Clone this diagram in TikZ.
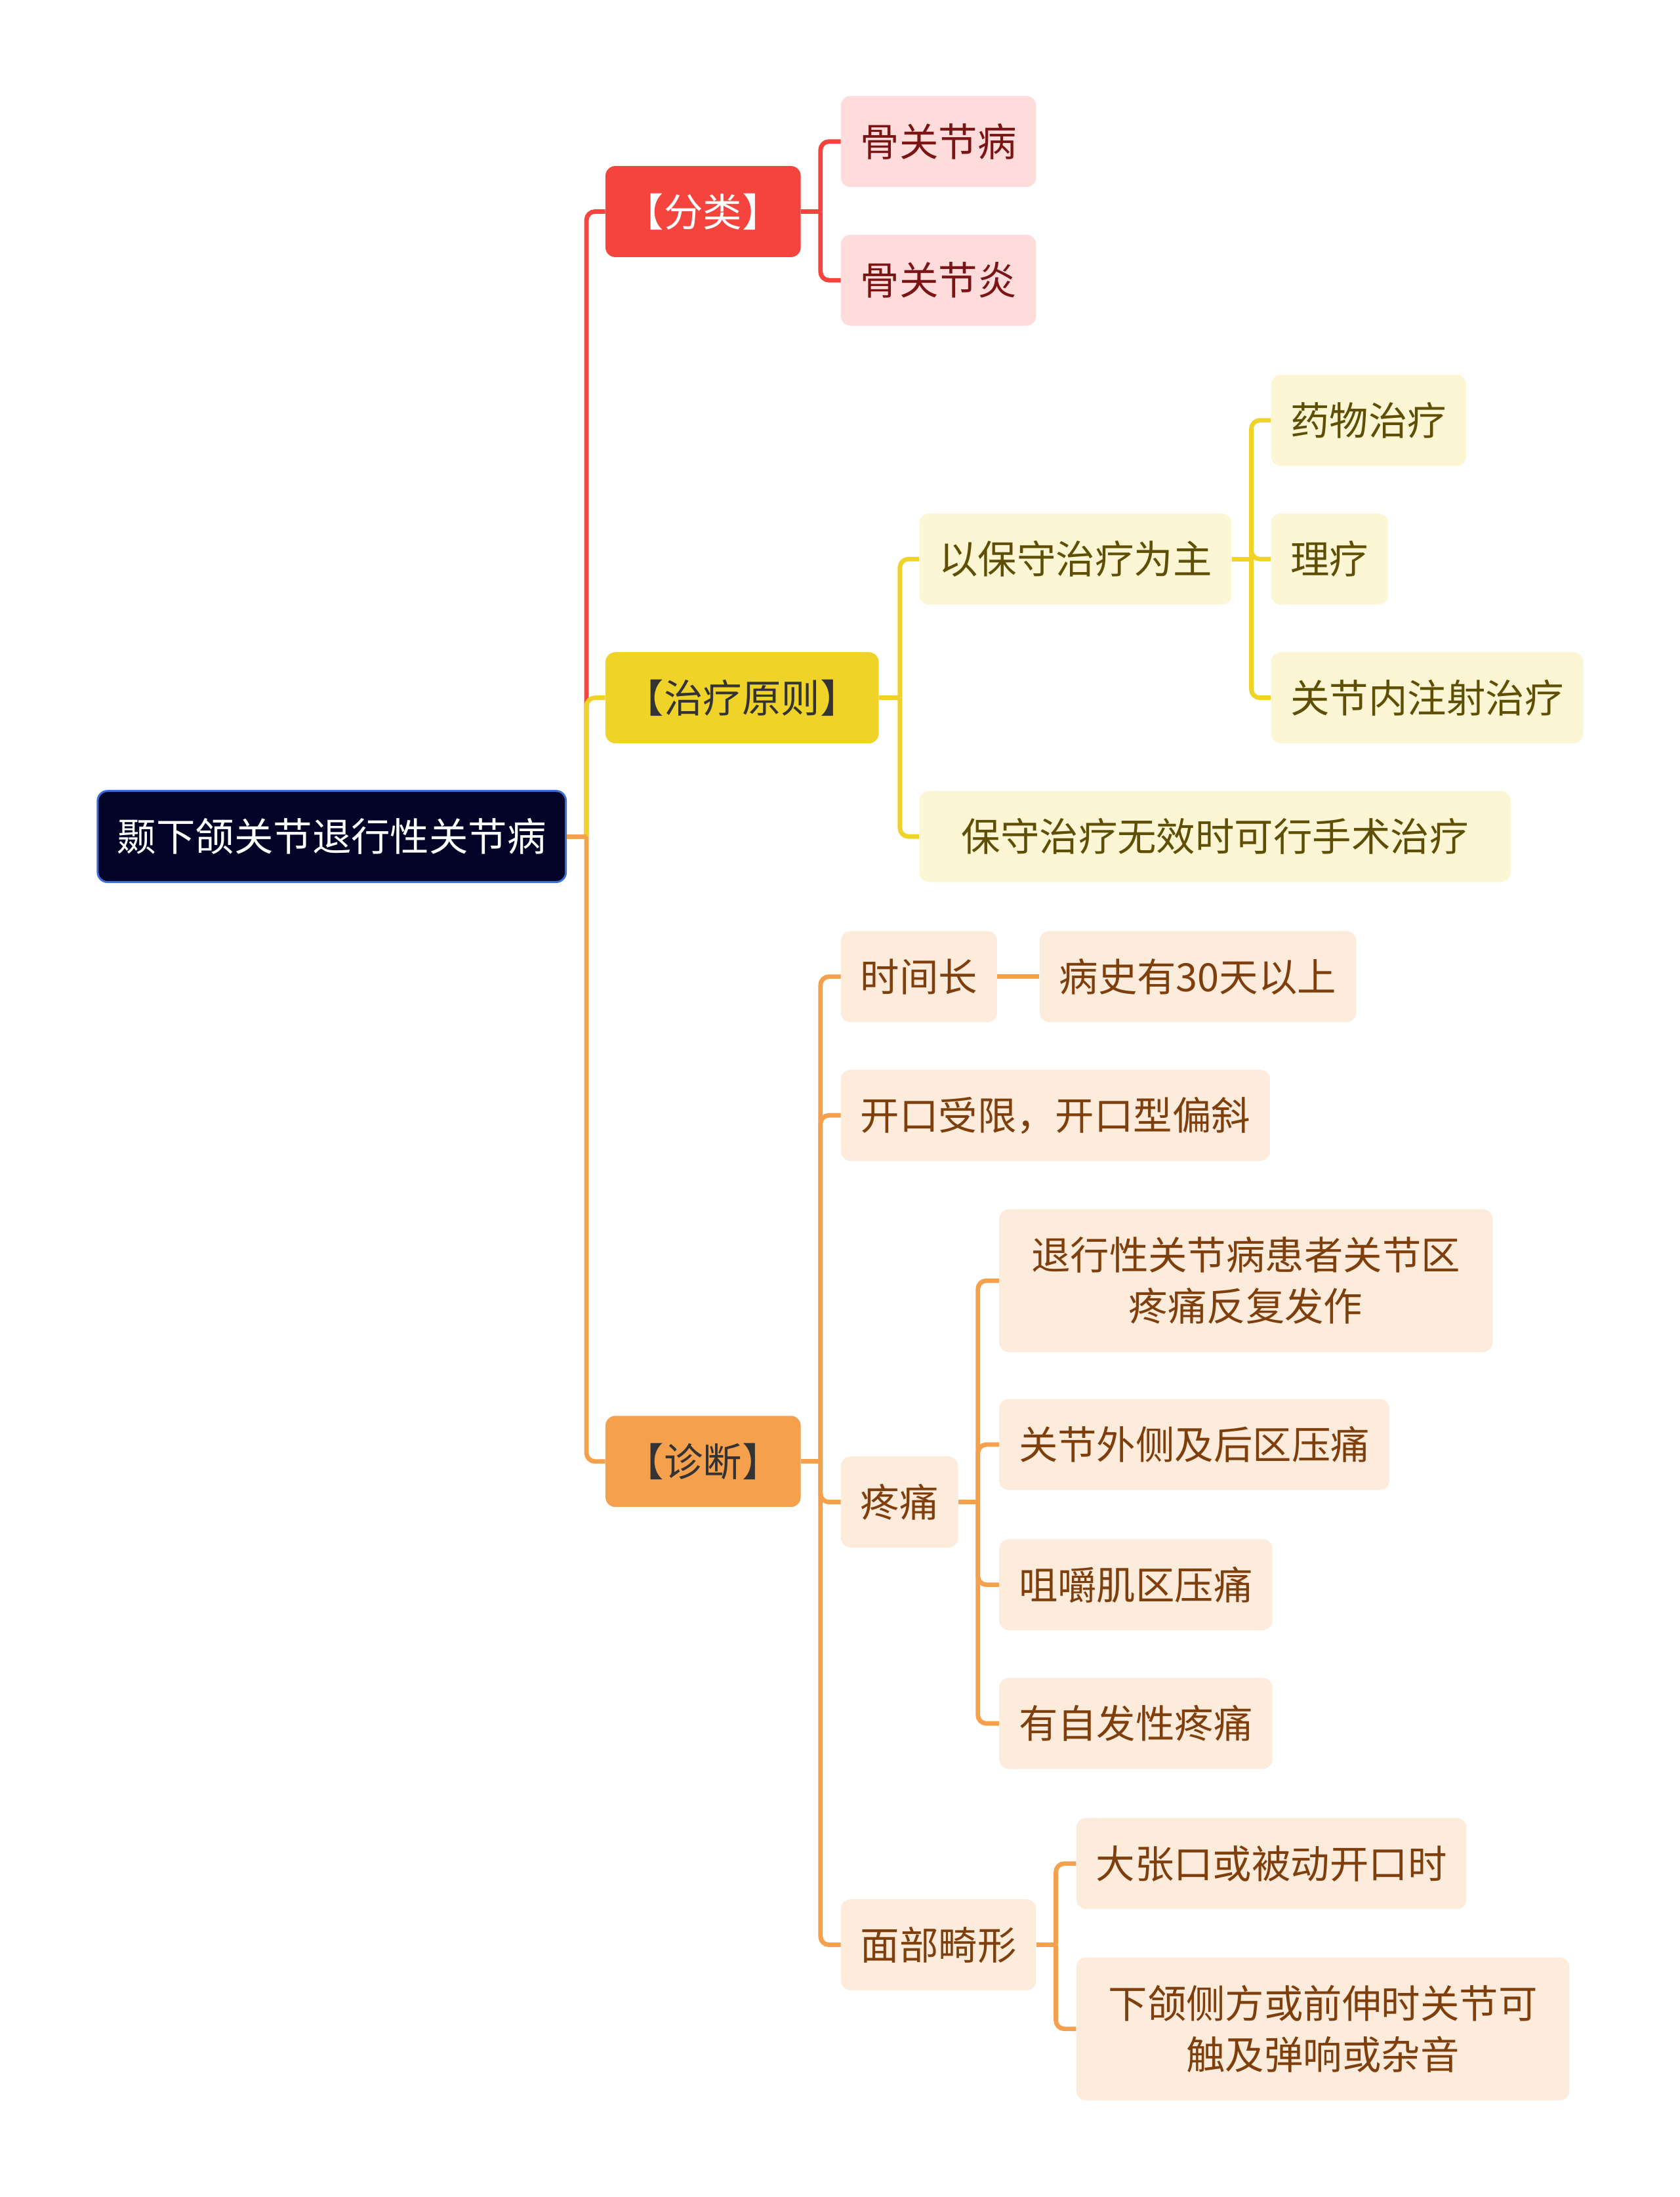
\documentclass[tikz,border=0pt]{standalone}
\usepackage{fontspec}
\setmainfont{Noto Sans CJK SC}
\usetikzlibrary{positioning}
\definecolor{rootfill}{HTML}{020327}
\definecolor{rootedge}{HTML}{3B6FD6}
\definecolor{cred}{HTML}{F5443D}
\definecolor{credl}{HTML}{FDDCDB}
\definecolor{credt}{HTML}{7B1414}
\definecolor{cyel}{HTML}{F0D329}
\definecolor{cyell}{HTML}{FCF6D5}
\definecolor{cyelt}{HTML}{5E4F05}
\definecolor{corg}{HTML}{F5A04D}
\definecolor{corgl}{HTML}{FDEBDC}
\definecolor{corgt}{HTML}{7F3F0C}
\definecolor{cdark}{HTML}{333333}
\tikzset{
  mm_box/.style = {rectangle, rounded corners=3.5mm, anchor=west, align=center,
    inner xsep=7mm, inner ysep=0pt, minimum height=32.5mm,
    font=\fontsize{39.6}{52}\selectfont},
  mm_root/.style = {mm_box, fill=rootfill, draw=rootedge, line width=0.7mm,
    text=white},% centre
  mm_r/.style = {mm_box, fill=cred, text=white},% rouge, niveau 1
  mm_rs/.style = {mm_box, fill=credl, text=credt},% rouge, niveau 2
  mm_y/.style = {mm_box, fill=cyel, text=cdark},% jaune, niveau 1
  mm_ys/.style = {mm_box, fill=cyell, text=cyelt},% jaune, niveau 2+
  mm_o/.style = {mm_box, fill=corg, text=cdark},% orange, niveau 1
  mm_os/.style = {mm_box, fill=corgl, text=corgt},% orange, niveau 2+
  ln_r/.style = {draw=cred, line width=1.6mm, rounded corners=3mm},
  ln_y/.style = {draw=cyel, line width=1.6mm, rounded corners=3mm},
  ln_o/.style = {draw=corg, line width=1.6mm, rounded corners=3mm}
}
\begin{document}
\begin{tikzpicture}[x=0.5mm,y=-0.5mm]
        \useasboundingbox (0,0) rectangle (1199,1568);
        \node [mm_root] (root) at (69,597) {颞下颌关节退行性关节病};
        % branches
        \node [mm_r] (fl) at (432,151) {【分类】};
        \node [mm_y] (zl) at (432,498) {【治疗原则】};
        \node [mm_o] (zd) at (432,1043) {【诊断】};
        % 分类
        \node [mm_rs] (fl1) at (600,101) {骨关节病};
        \node [mm_rs] (fl2) at (600,200) {骨关节炎};
        % 治疗原则
        \node [mm_ys] (zl1) at (656,399) {以保守治疗为主};
        \node [mm_ys, minimum width=211mm] (zl2) at (656,597) {保守治疗无效时可行手术治疗};
        \node [mm_ys] (ya) at (907,300) {药物治疗};
        \node [mm_ys] (li) at (907,399) {理疗};
        \node [mm_ys] (zs) at (907,498) {关节内注射治疗};
        % 诊断
        \node [mm_os] (sj) at (600,697) {时间长};
        \node [mm_os, right=15mm of sj] (bs) {病史有30天以上};
        \node [mm_os] (kk) at (600,796) {开口受限，开口型偏斜};
        \node [mm_os] (tt) at (600,1072) {疼痛};
        \node [mm_os, minimum width=176mm, minimum height=51mm] (tt1) at (713,914)
            {退行性关节病患者关节区\\疼痛反复发作};
        \node [mm_os] (tt2) at (713,1031) {关节外侧及后区压痛};
        \node [mm_os] (tt3) at (713,1131) {咀嚼肌区压痛};
        \node [mm_os] (tt4) at (713,1230) {有自发性疼痛};
        \node [mm_os] (mb) at (600,1388) {面部畸形};
        \node [mm_os] (mb1) at (768,1330) {大张口或被动开口时};
        \node [mm_os, minimum width=176mm, minimum height=51mm] (mb2) at (768,1448)
            {下颌侧方或前伸时关节可\\触及弹响或杂音};
        % bus points
        \coordinate (rb) at ([xshift=7mm]root.east);
        \coordinate (flb) at ([xshift=7mm]fl.east);
        \coordinate (zlb) at ([xshift=7.5mm]zl.east);
        \coordinate (zl1b) at ([xshift=7mm]zl1.east);
        \coordinate (zdb) at ([xshift=7mm]zd.east);
        \coordinate (ttb) at ([xshift=7mm]tt.east);
        \coordinate (mbb) at ([xshift=7mm]mb.east);
        % connectors
        \draw [ln_r] (rb) |- (fl.west);
        \draw [ln_y] (rb) |- (zl.west);
        \draw [ln_o] (rb) |- (zd.west);
        \draw [ln_o] (root.east) -- (rb);
        \draw [ln_r] (fl.east) -- (flb);
        \draw [ln_r] (flb) |- (fl1.west);
        \draw [ln_r] (flb) |- (fl2.west);
        \draw [ln_y] (zl.east) -- (zlb);
        \draw [ln_y] (zlb) |- (zl1.west);
        \draw [ln_y] (zlb) |- (zl2.west);
        \draw [ln_y] (zl1.east) -- (zl1b);
        \draw [ln_y] (zl1b) |- (ya.west);
        \draw [ln_y] (zl1b) |- (li.west);
        \draw [ln_y] (zl1b) |- (zs.west);
        \draw [ln_o] (zd.east) -- (zdb);
        \draw [ln_o] (zdb) |- (sj.west);
        \draw [ln_o] (zdb) |- (kk.west);
        \draw [ln_o] (zdb) |- (tt.west);
        \draw [ln_o] (zdb) |- (mb.west);
        \draw [ln_o] (sj.east) -- (bs.west);
        \draw [ln_o] (tt.east) -- (ttb);
        \draw [ln_o] (ttb) |- (tt1.west);
        \draw [ln_o] (ttb) |- (tt2.west);
        \draw [ln_o] (ttb) |- (tt3.west);
        \draw [ln_o] (ttb) |- (tt4.west);
        \draw [ln_o] (mb.east) -- (mbb);
        \draw [ln_o] (mbb) |- (mb1.west);
        \draw [ln_o] (mbb) |- (mb2.west);
\end{tikzpicture}
\end{document}
